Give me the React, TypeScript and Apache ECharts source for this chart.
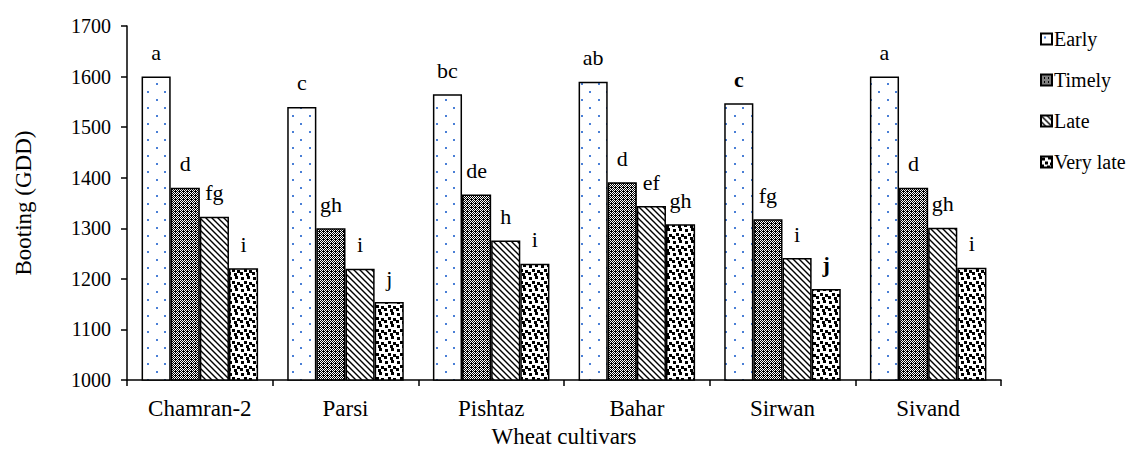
import React, { useEffect, useRef } from "react";
import * as echarts from "echarts";

const categories = ["Chamran-2", "Parsi", "Pishtaz", "Bahar", "Sirwan", "Sivand"];
const seriesNames = ["Early", "Timely", "Late", "Very late"];
const earlyValues = [1600, 1540, 1565, 1590, 1547, 1600];
const timelyValues = [1380, 1300, 1367, 1391, 1318, 1380];
const lateValues = [1323, 1220, 1276, 1344, 1241, 1301];
const veryLateValues = [1221, 1154, 1230, 1308, 1180, 1222];
const earlyLetters = ["a", "c", "bc", "ab", "c", "a"];
const timelyLetters = ["d", "gh", "de", "d", "fg", "d"];
const lateLetters = ["fg", "i", "h", "ef", "i", "gh"];
const veryLateLetters = ["i", "j", "i", "gh", "j", "i"];
const boldLetters: Array<[number, number]> = [[0, 4], [3, 4]]; // [series, category]
const yTicks = [1000, 1100, 1200, 1300, 1400, 1500, 1600, 1700];

const FONT = "'Liberation Serif', 'Times New Roman', serif";

function makePattern(w: number, h: number, draw: (ctx: CanvasRenderingContext2D) => void) {
  const c = document.createElement("canvas");
  c.width = w;
  c.height = h;
  const ctx = c.getContext("2d") as CanvasRenderingContext2D;
  ctx.imageSmoothingEnabled = false;
  draw(ctx);
  return { image: c, repeat: "repeat", imageWidth: w, imageHeight: h } as any;
}

function buildPatterns() {
  const early = makePattern(17, 16, (ctx) => {
    ctx.fillStyle = "#ffffff";
    ctx.fillRect(0, 0, 17, 16);
    ctx.fillStyle = "#4A7FD6";
    ctx.fillRect(3, 3, 2, 2);
    ctx.fillRect(11, 11, 2, 2);
  });
  const timely = makePattern(4, 4, (ctx) => {
    ctx.fillStyle = "#000000";
    ctx.fillRect(0, 0, 4, 4);
    ctx.fillStyle = "#ffffff";
    ctx.fillRect(0, 0, 1, 1);
    ctx.fillRect(2, 0, 1, 1);
    ctx.fillRect(1, 1, 1, 1);
    ctx.fillRect(3, 1, 1, 1);
    ctx.fillRect(0, 2, 1, 1);
    ctx.fillRect(2, 2, 1, 1);
    ctx.fillRect(1, 3, 1, 1);
  });
  const late = makePattern(6, 6, (ctx) => {
    ctx.fillStyle = "#ffffff";
    ctx.fillRect(0, 0, 6, 6);
    ctx.strokeStyle = "#000000";
    ctx.lineWidth = 1.4;
    ctx.beginPath();
    ctx.moveTo(-1, -1);
    ctx.lineTo(7, 7);
    ctx.moveTo(-4, 2);
    ctx.lineTo(2, 8);
    ctx.moveTo(2, -4);
    ctx.lineTo(8, 2);
    ctx.stroke();
  });
  const veryLate = makePattern(12, 12, (ctx) => {
    ctx.fillStyle = "#ffffff";
    ctx.fillRect(0, 0, 12, 12);
    ctx.fillStyle = "#000000";
    const sq = [[1, 1], [7, 0], [4, 5], [9, 6], [0, 8], [6, 9]];
    sq.forEach(([x, y]) => ctx.fillRect(x, y, 3, 3));
  });
  return [early, timely, late, veryLate];
}

export default function App() {
  const ref = useRef<HTMLDivElement>(null);
  useEffect(() => {
    if (!ref.current) return;
    const chart = echarts.init(ref.current, null, { renderer: "svg" });
    const patterns = buildPatterns();
    const valuesList = [earlyValues, timelyValues, lateValues, veryLateValues];
    const lettersList = [earlyLetters, timelyLetters, lateLetters, veryLateLetters];
    const series = seriesNames.map((name, si) => ({
      name,
      type: "bar",
      barGap: "0%",
      barCategoryGap: "20%",
      itemStyle: { color: patterns[si], borderColor: "#000", borderWidth: 1.5 },
      label: {
        show: true,
        position: "top",
        distance: 13,
        color: "#000",
        fontFamily: FONT,
        fontSize: 22,
        formatter: (p: any) => lettersList[si][p.dataIndex],
      },
      data: valuesList[si].map((v, ci) => {
        const bold = boldLetters.some(([s, c]) => s === si && c === ci);
        return bold ? { value: v, label: { fontWeight: "bold" } } : { value: v };
      }),
    }));
    chart.setOption({
      animation: false,
      backgroundColor: "#ffffff",
      textStyle: { fontFamily: FONT },
      grid: { left: 127, right: 141, top: 26, bottom: 73, containLabel: false },
      legend: {
        orient: "vertical",
        left: 1035,
        top: 24,
        itemWidth: 11,
        itemHeight: 11,
        itemGap: 21,
        icon: "rect",
        data: seriesNames,
        textStyle: { fontFamily: FONT, fontSize: 20, color: "#000", padding: [0, 0, 0, -3] },
      },
      xAxis: {
        type: "category",
        data: categories,
        name: "Wheat cultivars",
        nameLocation: "middle",
        nameGap: 45,
        nameTextStyle: { fontFamily: FONT, fontSize: 23, color: "#000" },
        axisLine: { lineStyle: { color: "#000", width: 1.5 } },
        axisTick: { show: true, length: 6, lineStyle: { color: "#000", width: 1.5 } },
        axisLabel: { fontFamily: FONT, fontSize: 23, color: "#000", margin: 17 },
        splitLine: { show: false },
      },
      yAxis: {
        type: "value",
        min: yTicks[0],
        max: yTicks[yTicks.length - 1],
        interval: 100,
        name: "Booting (GDD)",
        nameLocation: "middle",
        nameGap: 92,
        nameTextStyle: { fontFamily: FONT, fontSize: 23, color: "#000" },
        axisLine: { show: true, lineStyle: { color: "#000", width: 1.5 } },
        axisTick: { show: true, length: 6, lineStyle: { color: "#000", width: 1.5 } },
        axisLabel: {
          fontFamily: FONT,
          fontSize: 20,
          color: "#000",
          margin: 16,
          formatter: (v: number) => String(v),
        },
        splitLine: { show: false },
      },
      series,
    });
    return () => chart.dispose();
  }, []);
  return <div ref={ref} style={{ width: 1142, height: 453, margin: -8 }} />;
}
